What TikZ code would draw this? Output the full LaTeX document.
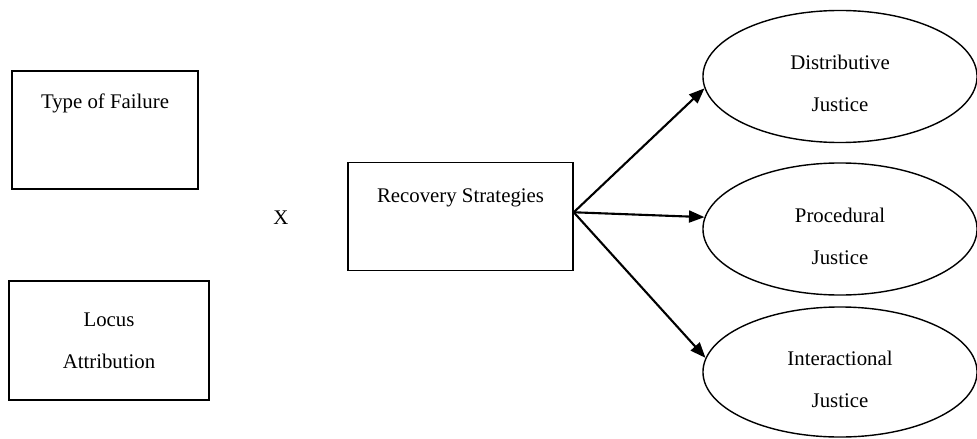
\documentclass[tikz,border=0pt]{standalone}
\usepackage{fontspec}
\setmainfont{Liberation Serif}
\usetikzlibrary{shapes,arrows.meta,positioning,calc}

\begin{document}
\begin{tikzpicture}[x=0.025cm,y=-0.025cm,
  font=\fontsize{14.8pt}{30pt}\selectfont,
  box/.style={draw,line width=1pt,rectangle,inner sep=0pt,align=center},
  oval/.style={draw,line width=1pt,ellipse,minimum width=6.85cm,minimum height=3.3cm},
  inside/.style={align=center,yshift=-5pt},
  link/.style={-{Triangle[length=11pt,width=8.5pt]},line width=1.5pt}]
\useasboundingbox (0,0) rectangle (977,439);
% left side
\node[box,minimum width=4.65cm,minimum height=2.95cm,
  label={[anchor=center,yshift=-23.5pt]north:Type of Failure}] (failure) at (105,130) {};
\node[box,minimum width=5cm,minimum height=2.975cm] (locus) at (109,340.5) {Locus\\Attribution};
\node (times) at (281,218) {X};
\node[box,minimum width=5.625cm,minimum height=2.7cm,
  label={[anchor=center,yshift=-25.5pt]north:Recovery Strategies}] (recovery) at (460.5,216.5) {};
% justice outcomes
\node[oval,label={[inside]center:Distributive\\Justice}] (distributive) at (840,76.5) {};
\node[oval,label={[inside]center:Procedural\\Justice}] (procedural) at (840,229) {};
\node[oval,minimum height=3.25cm,label={[inside]center:Interactional\\Justice}] (interactional) at (840,372) {};
\coordinate (hub) at ([yshift=3pt]recovery.east);
\draw[link] (hub) -- (distributive.185);
\draw[link] (hub) -- (procedural.175);
\draw[link] (hub) -- (interactional.174);
\end{tikzpicture}
\end{document}
